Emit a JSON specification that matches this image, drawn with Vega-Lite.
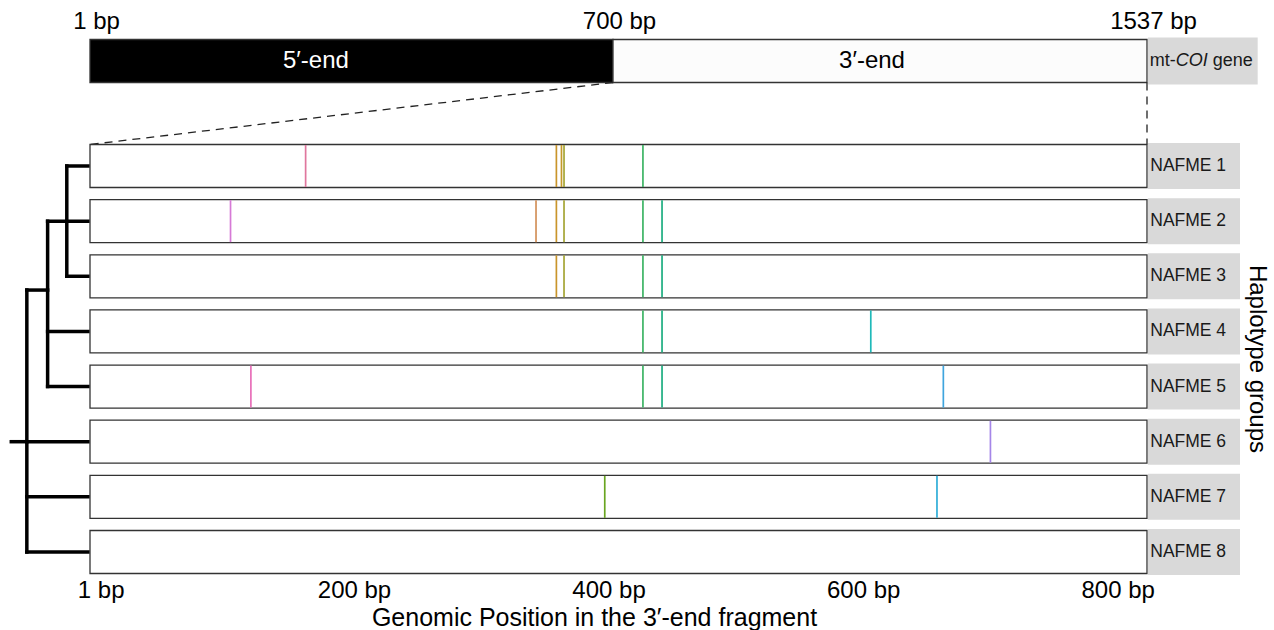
{
  "$schema": "https://vega.github.io/schema/vega-lite/v6.json",
  "padding": {"left": 0, "top": 9, "right": 0, "bottom": 0},
  "bounds": "flush",
  "spacing": 0,
  "config": {"font": "Liberation Sans", "view": {"stroke": null}, "concat": {"spacing": 0}, "scale": {"continuousPadding": 0}},
  "datasets": {
    "groups": [
      {"group": "NAFME 1", "row": 1},
      {"group": "NAFME 2", "row": 2},
      {"group": "NAFME 3", "row": 3},
      {"group": "NAFME 4", "row": 4},
      {"group": "NAFME 5", "row": 5},
      {"group": "NAFME 6", "row": 6},
      {"group": "NAFME 7", "row": 7},
      {"group": "NAFME 8", "row": 8}
    ],
    "snps": [
      {"group": "NAFME 1", "row": 1, "pos": 162},
      {"group": "NAFME 1", "row": 1, "pos": 359},
      {"group": "NAFME 1", "row": 1, "pos": 363},
      {"group": "NAFME 1", "row": 1, "pos": 365},
      {"group": "NAFME 1", "row": 1, "pos": 427},
      {"group": "NAFME 2", "row": 2, "pos": 103},
      {"group": "NAFME 2", "row": 2, "pos": 343},
      {"group": "NAFME 2", "row": 2, "pos": 359},
      {"group": "NAFME 2", "row": 2, "pos": 365},
      {"group": "NAFME 2", "row": 2, "pos": 427},
      {"group": "NAFME 2", "row": 2, "pos": 442},
      {"group": "NAFME 3", "row": 3, "pos": 359},
      {"group": "NAFME 3", "row": 3, "pos": 365},
      {"group": "NAFME 3", "row": 3, "pos": 427},
      {"group": "NAFME 3", "row": 3, "pos": 442},
      {"group": "NAFME 4", "row": 4, "pos": 427},
      {"group": "NAFME 4", "row": 4, "pos": 442},
      {"group": "NAFME 4", "row": 4, "pos": 606},
      {"group": "NAFME 5", "row": 5, "pos": 119},
      {"group": "NAFME 5", "row": 5, "pos": 427},
      {"group": "NAFME 5", "row": 5, "pos": 442},
      {"group": "NAFME 5", "row": 5, "pos": 663},
      {"group": "NAFME 6", "row": 6, "pos": 700},
      {"group": "NAFME 7", "row": 7, "pos": 397},
      {"group": "NAFME 7", "row": 7, "pos": 658}
    ],
    "gene": [
      {"segment": "5′-end", "start": 1, "end": 700},
      {"segment": "3′-end", "start": 700, "end": 1537}
    ],
    "header": [{"strip": "mt-COI gene", "axis_title": "Haplotype groups"}],
    "tree": [
      {"h1": 0, "h2": 1.05, "y1": 1, "y2": 1},
      {"h1": 0, "h2": 1.05, "y1": 3, "y2": 3},
      {"h1": 0, "h2": 2, "y1": 2, "y2": 2},
      {"h1": 0, "h2": 2, "y1": 4, "y2": 4},
      {"h1": 0, "h2": 2, "y1": 5, "y2": 5},
      {"h1": 2, "h2": 3.03, "y1": 3.25, "y2": 3.25},
      {"h1": 0, "h2": 3.03, "y1": 6, "y2": 6},
      {"h1": 0, "h2": 3.03, "y1": 7, "y2": 7},
      {"h1": 0, "h2": 3.03, "y1": 8, "y2": 8},
      {"h1": 3.03, "h2": 3.8, "y1": 6, "y2": 6},
      {"h1": 1.05, "h2": 1.05, "y1": 1, "y2": 3},
      {"h1": 2, "h2": 2, "y1": 2, "y2": 5},
      {"h1": 3.03, "h2": 3.03, "y1": 3.25, "y2": 8}
    ]
  },
  "hconcat": [
    {
      "width": 90,
      "height": 534,
      "data": {"name": "tree"},
      "mark": {"type": "rule", "strokeWidth": 3.5, "strokeCap": "square", "color": "black"},
      "encoding": {
        "x": {"field": "h1", "type": "quantitative", "scale": {"domain": [-0.1, 4.36], "reverse": true, "nice": false, "zero": false, "padding": 0}, "axis": null},
        "x2": {"field": "h2"},
        "y": {"field": "y1", "type": "quantitative", "scale": {"domain": [-1.303, 8.381], "reverse": true, "nice": false, "zero": false, "padding": 0}, "axis": null},
        "y2": {"field": "y2"}
      }
    },
    {
      "width": 1057,
      "height": 534,
      "resolve": {"scale": {"x": "independent"}, "axis": {"x": "independent"}},
      "layer": [
        {
          "data": {"name": "gene"},
          "layer": [
            {
              "mark": {"type": "bar", "size": 43, "stroke": "#333333", "strokeWidth": 1.3},
              "encoding": {
                "x": {"field": "start", "type": "quantitative",
                  "scale": {"domain": [1, 700, 1537], "range": [0, 523, 1057], "nice": false, "zero": false, "padding": 0},
                  "axis": {"orient": "top", "values": [1, 700, 1537], "labelExpr": "datum.value + ' bp'", "ticks": false, "domain": false, "grid": false, "labelFontSize": 24, "labelPadding": 5.5, "labelOffset": 6, "labelColor": "black", "title": null, "labelFlush": false, "labelOverlap": false}},
                "x2": {"field": "end"},
                "y": {"datum": -0.904, "type": "quantitative", "scale": {"domain": [-1.303, 8.381], "reverse": true, "nice": false, "zero": false, "padding": 0}, "axis": null},
                "fill": {"field": "segment", "type": "nominal", "scale": {"domain": ["5′-end", "3′-end"], "range": ["#000000", "#FCFCFC"]}, "legend": null}
              }
            },
            {
              "transform": [{"filter": "datum.segment === '5′-end'"}],
              "mark": {"type": "text", "fontSize": 24, "color": "white", "baseline": "middle", "align": "center"},
              "encoding": {
                "x": {"datum": 303, "type": "quantitative"},
                "y": {"datum": -0.904, "type": "quantitative"},
                "text": {"field": "segment"}
              }
            },
            {
              "transform": [{"filter": "datum.segment === '3′-end'"}],
              "mark": {"type": "text", "fontSize": 24, "color": "black", "baseline": "middle", "align": "center"},
              "encoding": {
                "x": {"datum": 1106, "type": "quantitative"},
                "y": {"datum": -0.904, "type": "quantitative"},
                "text": {"field": "segment"}
              }
            },
            {
              "transform": [{"filter": "datum.segment === '3′-end'"}],
              "mark": {"type": "rule", "strokeDash": [8, 6], "strokeWidth": 1.3, "color": "#222222"},
              "encoding": {
                "x": {"field": "start", "type": "quantitative"},
                "x2": {"datum": 1},
                "y": {"datum": -0.514, "type": "quantitative"},
                "y2": {"datum": 0.61}
              }
            },
            {
              "transform": [{"filter": "datum.segment === '3′-end'"}],
              "mark": {"type": "rule", "strokeDash": [8, 6], "strokeWidth": 1.3, "color": "#222222"},
              "encoding": {
                "x": {"field": "end", "type": "quantitative"},
                "x2": {"field": "end"},
                "y": {"datum": -0.514, "type": "quantitative"},
                "y2": {"datum": 0.61}
              }
            }
          ]
        },
        {
          "layer": [
            {
              "data": {"name": "groups"},
              "mark": {"type": "bar", "size": 43, "fill": "white", "stroke": "#333333", "strokeWidth": 1.3},
              "encoding": {
                "x": {"datum": -7.4, "type": "quantitative",
                  "scale": {"domain": [-7.4, 823], "nice": false, "zero": false, "padding": 0},
                  "axis": {"orient": "bottom", "values": [1, 200, 400, 600, 800], "labelExpr": "datum.value + ' bp'", "ticks": false, "domain": false, "grid": false, "labelFontSize": 24, "labelPadding": 5, "labelColor": "black", "title": "Genomic Position in the 3′-end fragment", "titleFontSize": 25, "titleFontWeight": "normal", "titleColor": "black", "titlePadding": 3, "titleX": 504, "titleAlign": "center", "labelFlush": false, "labelOverlap": false}},
                "x2": {"datum": 823},
                "y": {"field": "row", "type": "quantitative"}
              }
            },
            {
              "data": {"name": "snps"},
              "mark": {"type": "tick", "orient": "vertical", "size": 42, "thickness": 1.7, "opacity": 1},
              "encoding": {
                "x": {"field": "pos", "type": "quantitative"},
                "y": {"field": "row", "type": "quantitative"},
                "color": {"field": "pos", "type": "nominal", "legend": null,
                  "scale": {"domain": [103, 119, 162, 343, 359, 363, 365, 397, 427, 442, 606, 658, 663, 700],
                    "range": ["#D67AD6", "#E86FB9", "#E0779E", "#D3915A", "#C9952B", "#C49A2A", "#A5A535", "#6AA521", "#3DB465", "#1DAE80", "#1FB9B9", "#2FAED8", "#3FA5DE", "#A586E8"]}}
              }
            }
          ]
        }
      ]
    },
    {
      "width": 127,
      "height": 534,
      "layer": [
        {
          "data": {"name": "groups"},
          "mark": {"type": "bar", "size": 46, "fill": "#D9D9D9"},
          "encoding": {
            "x": {"datum": 0.01, "type": "quantitative", "scale": {"domain": [0, 1.3656], "nice": false, "zero": false, "padding": 0}, "axis": null},
            "x2": {"datum": 1},
            "y": {"field": "row", "type": "quantitative", "scale": {"domain": [-1.303, 8.381], "reverse": true, "nice": false, "zero": false, "padding": 0}, "axis": null}
          }
        },
        {
          "data": {"name": "groups"},
          "mark": {"type": "text", "align": "left", "baseline": "middle", "fontSize": 17.5, "color": "#1a1a1a"},
          "encoding": {
            "x": {"datum": 0.035, "type": "quantitative"},
            "y": {"field": "row", "type": "quantitative"},
            "text": {"field": "group"}
          }
        },
        {
          "data": {"name": "header"},
          "mark": {"type": "bar", "size": 47, "fill": "#D9D9D9"},
          "encoding": {
            "x": {"datum": 0.01, "type": "quantitative"},
            "x2": {"datum": 1.19},
            "y": {"datum": -0.904, "type": "quantitative"}
          }
        },
        {
          "data": {"name": "header"},
          "mark": {"type": "text", "align": "left", "baseline": "middle", "fontSize": 18, "color": "#1a1a1a"},
          "encoding": {
            "x": {"datum": 0.03, "type": "quantitative"},
            "y": {"datum": -0.904, "type": "quantitative"},
            "text": {"value": "mt-"}
          }
        },
        {
          "data": {"name": "header"},
          "mark": {"type": "text", "align": "left", "baseline": "middle", "fontSize": 18, "fontStyle": "italic", "color": "#1a1a1a", "dx": 26},
          "encoding": {
            "x": {"datum": 0.03, "type": "quantitative"},
            "y": {"datum": -0.904, "type": "quantitative"},
            "text": {"value": "COI"}
          }
        },
        {
          "data": {"name": "header"},
          "mark": {"type": "text", "align": "left", "baseline": "middle", "fontSize": 18, "color": "#1a1a1a", "dx": 63},
          "encoding": {
            "x": {"datum": 0.03, "type": "quantitative"},
            "y": {"datum": -0.904, "type": "quantitative"},
            "text": {"value": "gene"}
          }
        },
        {
          "data": {"name": "header"},
          "mark": {"type": "text", "align": "center", "baseline": "middle", "fontSize": 24, "angle": 90, "color": "black"},
          "encoding": {
            "x": {"datum": 1.18, "type": "quantitative"},
            "y": {"datum": 4.5, "type": "quantitative"},
            "text": {"field": "axis_title"}
          }
        }
      ]
    }
  ]
}
